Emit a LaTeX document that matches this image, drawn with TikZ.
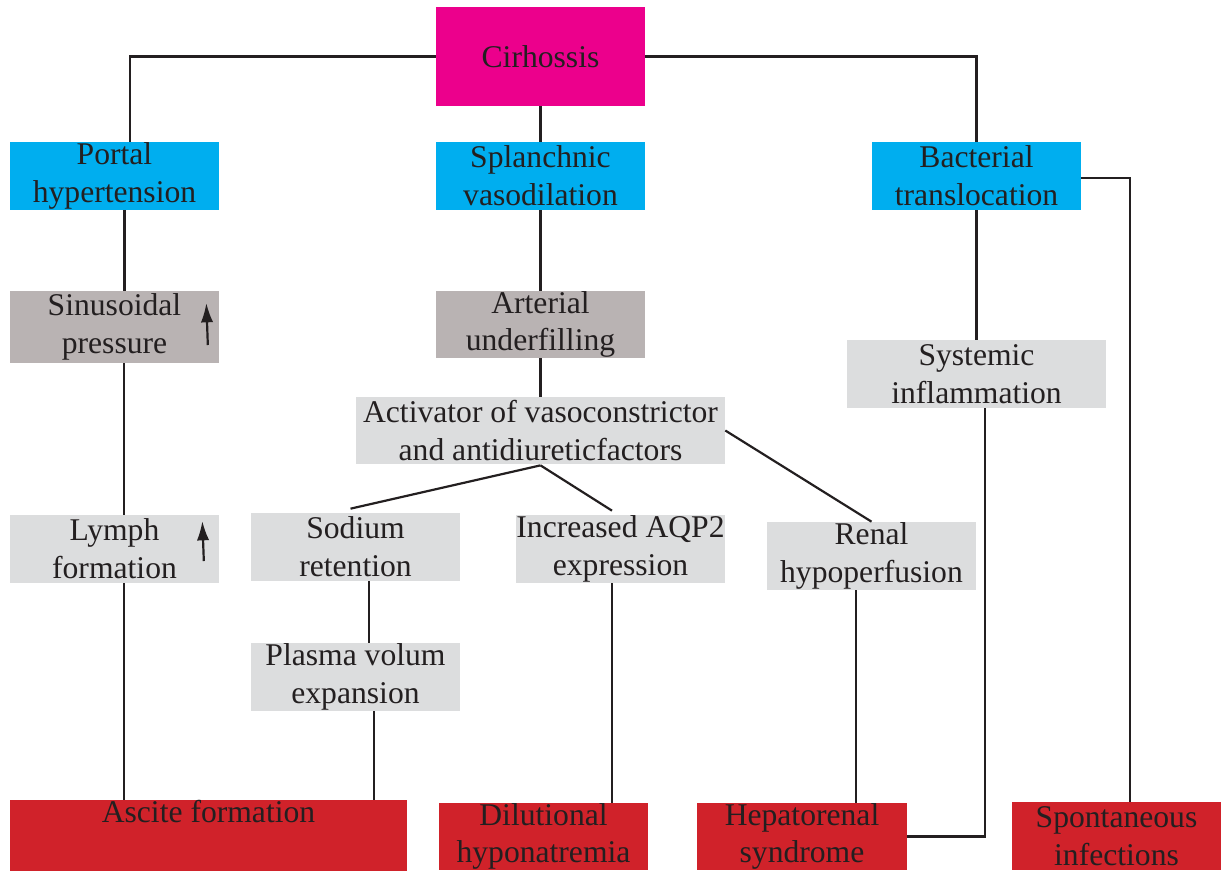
\documentclass[tikz,border=0pt]{standalone}
\usepackage{fontspec}
\setmainfont{Liberation Serif}
\usetikzlibrary{calc,arrows.meta}

\definecolor{cirpink}{HTML}{EC008C}
\definecolor{cyanbox}{HTML}{00AEEF}
\definecolor{darkgrey}{HTML}{B9B3B3}
\definecolor{lightgrey}{HTML}{DCDDDE}
\definecolor{outred}{HTML}{D0222A}
\definecolor{ink}{HTML}{231F20}

\tikzset{
  box/.style={inner sep=0pt, minimum width=4.18cm, minimum height=1.36cm, align=center,
    text=ink, font=\fontsize{18}{21.5}\selectfont},
  pinkbox/.style={box, fill=cirpink, minimum height=1.98cm},
  bluebox/.style={box, fill=cyanbox},
  greybox/.style={box, fill=darkgrey},
  palebox/.style={box, fill=lightgrey},
  redbox/.style={box, fill=outred},
  link/.style={draw=ink, line width=1.25pt},
  uparrow/.style={ink, line width=1.25pt, -{Latex[length=11pt,width=7pt]}},
}

\begin{document}
\begin{tikzpicture}[x=0.02cm, y=-0.02cm]
  \useasboundingbox (0,0) rectangle (1229,870);

  % top
  \node[pinkbox] (cir) at (540.5, 56.5) {Cirhossis};
  \node[bluebox] (portal) at (114.5, 176) {Portal\\hypertension};
  \node[bluebox] (splanch) at (540.5, 176) {Splanchnic\\vasodilation};
  \node[bluebox] (bact) at (976.5, 176) {Bacterial\\translocation};

  % middle
  \node[greybox, minimum height=1.44cm] (sinus) at (114.5, 327) {Sinusoidal\\pressure};
  \node[greybox, minimum height=1.34cm] (arterial) at (540.5, 324.5) {Arterial\\underfilling};
  \node[palebox, minimum width=5.18cm] (systemic) at (976.5, 374) {Systemic\\inflammation};
  \node[palebox, minimum width=7.38cm, minimum height=1.34cm] (activ) at (540.5, 430.5) {Activator of vasoconstrictor\\and antidiureticfactors};
  \node[palebox] (lymph) at (114.5, 549) {Lymph\\formation};
  \node[palebox] (sodium) at (355.5, 547) {Sodium\\retention};
  \node[palebox] (aqp) at (620.5, 549) {Increased AQP2\\expression};
  \node[palebox] (renal) at (871.5, 556) {Renal\\hypoperfusion};
  \node[palebox] (plasma) at (355.5, 677) {Plasma volum\\expansion};

  % bottom
  \node[redbox, minimum width=7.94cm] (ascite) at (208.5, 836) {Ascite formation\\\strut};
  \node[redbox, minimum height=1.34cm] (dilut) at (543.5, 836.5) {Dilutional\\hyponatremia};
  \node[redbox, minimum width=4.2cm, minimum height=1.34cm] (hepato) at (802, 836.5) {Hepatorenal\\syndrome};
  \node[redbox] (spont) at (1116.5, 836) {Spontaneous\\infections};

  % small up arrows
  \draw[uparrow] ($(sinus.east)+(-11.5,18)$) -- ($(sinus.east)+(-13,-24)$);
  \draw[uparrow] ($(lymph.east)+(-15.5,12)$) -- ($(lymph.east)+(-17,-28)$);

  % connectors
  \draw[link] (cir.west) -| ([xshift=0.31cm]portal.north);
  \draw[link] (cir.south) -- (splanch.north);
  \draw[link] (cir.east) -| (bact.north);
  \draw[link] ([xshift=0.2cm]portal.south) -- ([xshift=0.2cm]sinus.north);
  \draw[link] ([xshift=0.19cm]sinus.south) -- ([xshift=0.19cm]lymph.north);
  \draw[link] ([xshift=0.19cm]lymph.south) coordinate (lymphout) -- (lymphout |- ascite.north);
  \draw[link] (splanch.south) -- (arterial.north);
  \draw[link] (arterial.south) -- (activ.north);
  \draw[link] ([yshift=-0.02cm]activ.south) -- ([xshift=-0.1cm, yshift=0.08cm]sodium.north);
  \draw[link] ([yshift=-0.02cm]activ.south) -- ([xshift=-0.17cm, yshift=0.08cm]aqp.north);
  \draw[link] (activ.east) -- (renal.north);
  \draw[link] ([xshift=0.27cm]sodium.south) -- ([xshift=0.27cm]plasma.north);
  \draw[link] ([xshift=0.37cm]plasma.south) coordinate (plasmaout) -- (plasmaout |- ascite.north);
  \draw[link] ([xshift=-0.17cm]aqp.south) coordinate (aqpout) -- (aqpout |- dilut.north);
  \draw[link] ([xshift=-0.31cm]renal.south) coordinate (renalout) -- (renalout |- hepato.north);
  \draw[link] (bact.south) -- (systemic.north);
  \draw[link] ([xshift=0.17cm]systemic.south) |- (hepato.east);
  \draw[link] ([yshift=-0.04cm]bact.east) -| ([xshift=0.27cm]spont.north);
\end{tikzpicture}
\end{document}
